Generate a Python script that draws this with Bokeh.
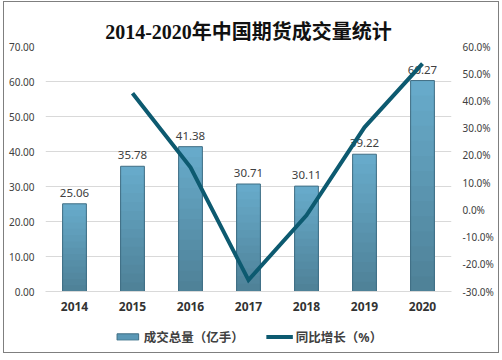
from bokeh.plotting import figure
from bokeh.layouts import column
from bokeh.models import (Range1d, LinearAxis, FixedTicker, PrintfTickFormatter,
                          NumeralTickFormatter, Legend, LegendItem, ColumnDataSource)
from bokeh.core.properties import value
from bokeh.embed import file_html
from bokeh.resources import INLINE

years = ["2014", "2015", "2016", "2017", "2018", "2019", "2020"]
volume = [25.06, 35.78, 41.38, 30.71, 30.11, 39.22, 60.27]
growth_years = ["2015", "2016", "2017", "2018", "2019", "2020"]
growth = [42.8, 15.6, -25.8, -2.0, 30.3, 53.7]
left_ticks = [0, 10, 20, 30, 40, 50, 60, 70]
right_ticks = [-30, -20, -10, 0, 10, 20, 30, 40, 50, 60]
legend_labels = ["成交总量（亿手）", "同比增长（%）"]

FONT = "'Noto Sans', 'Noto Sans CJK SC'"
BAR_EDGE = "#3f6e84"
LINE_C = "#0d5a70"

p = figure(x_range=years, y_range=Range1d(0, 70), width=494, height=318,
           output_backend="svg", toolbar_location=None,
           min_border_left=41, min_border_right=47, min_border_top=44, min_border_bottom=29)
p.extra_y_ranges = {"pct": Range1d(-30, 60)}

p.title.text = "2014-2020年中国期货成交量统计"
p.title.align = "center"
p.title.text_font = "'Liberation Serif', 'Noto Sans CJK SC'"
p.title.text_font_size = "20px"
p.title.text_font_style = "bold"
p.title.text_color = "#111111"
p.title.standoff = 7

p.outline_line_color = None
p.xgrid.grid_line_color = None
p.ygrid.grid_line_color = "#d9d9d9"

# gradient bars (overlapping bands, drawn tallest first)
N = 14
def lerp(c1, c2, t):
    return "#%02x%02x%02x" % tuple(int(round(a + (b - a) * t)) for a, b in zip(c1, c2))
bottom_c = (78, 128, 150)
top_c = (104, 172, 204)
for k in reversed(range(N)):
    src = ColumnDataSource(dict(x=years, top=[v * (k + 1) / N for v in volume]))
    p.vbar(x="x", top="top", width=0.41, source=src,
           fill_color=lerp(bottom_c, top_c, (k + 0.5) / N), line_color=None)
p.vbar(x=years, top=volume, width=0.41, fill_alpha=0, line_color=BAR_EDGE, line_width=1)

# labels
p.text(x=years, y=volume, text=[f"{v:.2f}" for v in volume],
       text_align="center", text_baseline="bottom", y_offset=-7,
       text_font=value(FONT), text_font_size="11.5px", text_color="#404040")

p.line(x=growth_years, y=growth, y_range_name="pct",
       line_color=LINE_C, line_width=4, line_join="miter")

# axes
ya = p.yaxis[0]
ya.ticker = FixedTicker(ticks=left_ticks)
ya.formatter = NumeralTickFormatter(format="0.00")
ra = LinearAxis(y_range_name="pct", ticker=FixedTicker(ticks=right_ticks),
                formatter=PrintfTickFormatter(format="%.1f%%"))
p.add_layout(ra, "right")
for ax in [ya, ra]:
    ax.axis_line_color = None
    ax.major_tick_line_color = None
    ax.minor_tick_line_color = None
    ax.major_tick_out = 0
    ax.major_tick_in = 0
    ax.minor_tick_out = 0
    ax.minor_tick_in = 0
    ax.major_label_text_font = FONT
    ax.major_label_text_font_size = "10px"
    ax.major_label_text_color = "#404040"
ya.major_label_standoff = 11
ra.major_label_standoff = 11
xa = p.xaxis[0]
xa.axis_line_color = "#d9d9d9"
xa.major_tick_line_color = None
xa.major_tick_out = 0
xa.major_label_text_font = FONT
xa.major_label_text_font_size = "12px"
xa.major_label_text_font_style = "bold"
xa.major_label_text_color = "#333333"
xa.major_label_standoff = 10

# legend strip below the chart (its renderers lie below its visible range)
lg = figure(width=494, height=32, output_backend="svg", toolbar_location=None,
            x_axis_type=None, y_axis_type=None, x_range=years, y_range=Range1d(1000, 1001),
            min_border=0)
lg.extra_y_ranges = {"pct": Range1d(1000, 1001)}
lg.outline_line_color = None
lg.xgrid.visible = False
lg.ygrid.visible = False
r_bar = lg.vbar(x=years, top=volume, width=0.4, fill_color="#5b98b6", line_color=BAR_EDGE)
r_line = lg.line(x=growth_years, y=growth, y_range_name="pct", line_color=LINE_C, line_width=4)
legend = Legend(items=[LegendItem(label=legend_labels[0], renderers=[r_bar]),
                       LegendItem(label=legend_labels[1], renderers=[r_line])],
                orientation="horizontal", location="center",
                border_line_color=None, background_fill_alpha=0,
                label_text_font=FONT, label_text_font_size="12.5px",
                label_text_font_style="bold", label_text_color="#404040",
                glyph_width=27, glyph_height=8, spacing=22, padding=2, margin=0,
                label_standoff=3)
lg.add_layout(legend)

layout = column(p, lg, styles={"border": "1px solid #7f7f7f", "margin-left": "3px",
                               "margin-top": "1px"})
open("out.html", "w").write(file_html(layout, INLINE))
